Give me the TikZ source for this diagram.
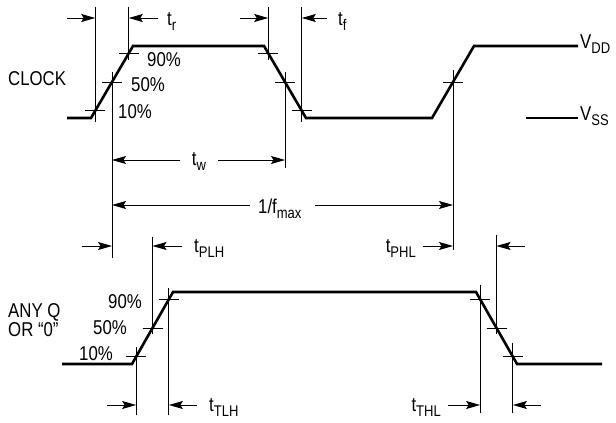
\documentclass[tikz,border=0pt]{standalone}
\usepackage{fontspec}
\setmainfont{Liberation Sans}[FakeStretch=0.84]
\usetikzlibrary{arrows.meta}
\newcommand\sbs[1]{\raisebox{-0.28em}{\fontsize{15.5}{15.5}\selectfont #1}}
\begin{document}
\begin{tikzpicture}[x=1pt,y=-1pt,
  wave/.style={line width=2.6pt, line join=miter},
  guide/.style={line width=0.9pt},
  tick/.style={line width=0.9pt},
  dim/.style={line width=0.9pt, -{Stealth[length=14pt,width=8pt,inset=2.5pt]}},
  lbl/.style={font=\fontsize{20}{22}\selectfont, inner sep=0pt}]
\useasboundingbox (0,0) rectangle (616,423);

% ---- CLOCK waveform
\coordinate (c0) at (67,118);
\coordinate (c1) at (91,118);
\coordinate (c2) at (133,46);
\coordinate (c3) at (264,46);
\coordinate (c4) at (306,118);
\coordinate (c5) at (432,118);
\coordinate (c6) at (474,46);
\coordinate (c7) at (578,46);
\draw[wave] (c0) -- (c1) -- (c2) -- (c3) -- (c4) -- (c5) -- (c6) -- (c7);
\coordinate (vs0) at (526,118);
\coordinate (vs1) at (578,118);
\draw[wave] (vs0) -- (vs1);

% crossing points
\coordinate (r10) at (95.2,110.8);
\coordinate (r50) at (112,82);
\coordinate (r90) at (128.8,53.2);
\coordinate (f90) at (268.2,53.2);
\coordinate (f50) at (285,82);
\coordinate (f10) at (301.8,110.8);
\coordinate (s50) at (453,82);

% ticks
\foreach \p in {r10,r50,r90,f90,f50,f10,s50}
  \draw[tick] ([xshift=-10pt]\p) -- ([xshift=10pt]\p);

% guides
\draw[guide] (95.2,7) -- (95.2,122);
\draw[guide] (112,72) -- (112,258);
\draw[guide] (128.8,7) -- (128.8,60);
\draw[guide] (268.2,7) -- (268.2,60);
\draw[guide] (285,72) -- (285,168);
\draw[guide] (301.8,7) -- (301.8,122);
\draw[guide] (453,70) -- (453,250);

% top arrows
\coordinate (a1) at (67,18);   \coordinate (a1e) at (95.2,18);
\coordinate (a2) at (158,18);  \coordinate (a2e) at (128.8,18);
\coordinate (a3) at (240,18);  \coordinate (a3e) at (268.2,18);
\coordinate (a4) at (327,18);  \coordinate (a4e) at (301.8,18);
\draw[dim] (a1) -- (a1e);
\draw[dim] (a2) -- (a2e);
\draw[dim] (a3) -- (a3e);
\draw[dim] (a4) -- (a4e);
\node[lbl, anchor=base west] (tr) at (167,25) {t\sbs{r}};
\node[lbl, anchor=base west] (tf) at (338,25) {t\sbs{f}};

% t_w
\coordinate (w1) at (180,160); \coordinate (w1e) at (112,160);
\coordinate (w2) at (218,160); \coordinate (w2e) at (285,160);
\draw[dim] (w1) -- (w1e);
\draw[dim] (w2) -- (w2e);
\node[lbl, anchor=base] (tw) at (199,165) {t\sbs{w}};

% 1/fmax
\coordinate (m1) at (250,205); \coordinate (m1e) at (112,205);
\coordinate (m2) at (315,205); \coordinate (m2e) at (453,205);
\draw[dim] (m1) -- (m1e);
\draw[dim] (m2) -- (m2e);
\node[lbl, anchor=base west] (fmax) at (258,213) {1/f\sbs{max}};

% clock labels
\node[lbl, anchor=base west] (clk) at (8,85) {CLOCK};
\node[lbl, anchor=base west] (p90) at (147,66) {90\%};
\node[lbl, anchor=base west] (p50) at (131,91) {50\%};
\node[lbl, anchor=base west] (p10) at (118,118) {10\%};
\node[lbl, anchor=base west] (vdd) at (580,48) {V\sbs{DD}};
\node[lbl, anchor=base west] (vss) at (580,120) {V\sbs{SS}};

% ---- Q waveform
\coordinate (q0) at (62,364);
\coordinate (q1) at (132,364);
\coordinate (q2) at (173,292);
\coordinate (q3) at (476,292);
\coordinate (q4) at (517,364);
\coordinate (q5) at (602,364);
\draw[wave] (q0) -- (q1) -- (q2) -- (q3) -- (q4) -- (q5);

\coordinate (qr10) at (136.1,356.8);
\coordinate (qr50) at (152.5,328);
\coordinate (qr90) at (168.9,299.2);
\coordinate (qf90) at (480.1,299.2);
\coordinate (qf50) at (496.5,328);
\coordinate (qf10) at (512.9,356.8);
\foreach \p in {qr10,qr50,qr90,qf90,qf50,qf10}
  \draw[tick] ([xshift=-10pt]\p) -- ([xshift=10pt]\p);

\draw[guide] (136.1,347) -- (136.1,415);
\draw[guide] (152.5,237) -- (152.5,334);
\draw[guide] (168.9,288) -- (168.9,415);
\draw[guide] (480.1,285) -- (480.1,413);
\draw[guide] (496.5,235) -- (496.5,334);
\draw[guide] (512.9,343) -- (512.9,413);

% propagation arrows
\coordinate (b1) at (82,246);  \coordinate (b1e) at (112,246);
\coordinate (b2) at (182,246); \coordinate (b2e) at (152.5,246);
\coordinate (b3) at (423,246); \coordinate (b3e) at (453,246);
\coordinate (b4) at (525,246); \coordinate (b4e) at (496.5,246);
\draw[dim] (b1) -- (b1e);
\draw[dim] (b2) -- (b2e);
\draw[dim] (b3) -- (b3e);
\draw[dim] (b4) -- (b4e);
\node[lbl, anchor=base west] (tplh) at (194,252) {t\sbs{PLH}};
\node[lbl, anchor=base east] (tphl) at (416,252) {t\sbs{PHL}};

% transition arrows
\coordinate (d1) at (107,405); \coordinate (d1e) at (136.1,405);
\coordinate (d2) at (197,405); \coordinate (d2e) at (168.9,405);
\coordinate (d3) at (448,405); \coordinate (d3e) at (480.1,405);
\coordinate (d4) at (541,405); \coordinate (d4e) at (512.9,405);
\draw[dim] (d1) -- (d1e);
\draw[dim] (d2) -- (d2e);
\draw[dim] (d3) -- (d3e);
\draw[dim] (d4) -- (d4e);
\node[lbl, anchor=base west] (ttlh) at (209,411) {t\sbs{TLH}};
\node[lbl, anchor=base east] (tthl) at (441,411) {t\sbs{THL}};

% Q labels
\node[lbl, anchor=base west] (anyq) at (8,317) {ANY Q};
\node[lbl, anchor=base west] (orz) at (8,336) {OR “0”};
\node[lbl, anchor=base east] (q90) at (142,308) {90\%};
\node[lbl, anchor=base east] (q50) at (127,334) {50\%};
\node[lbl, anchor=base east] (q10) at (113,360) {10\%};
\end{tikzpicture}
\end{document}
